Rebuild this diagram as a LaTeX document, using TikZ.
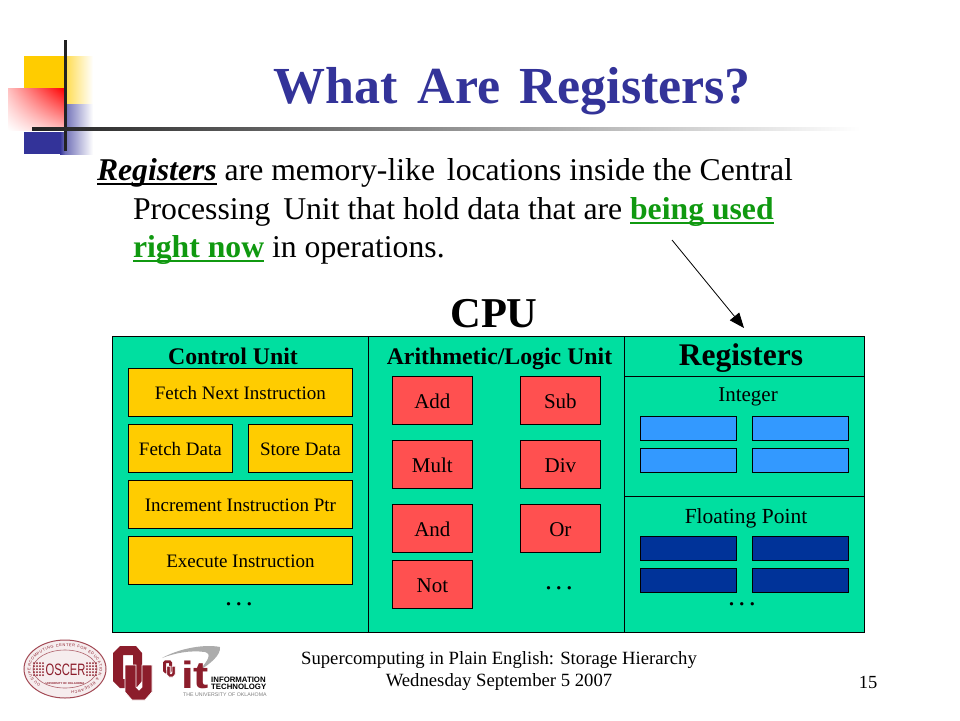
\documentclass[tikz,border=0pt]{standalone}
\usepackage{fontspec}
\setmainfont{Liberation Serif}
\newfontfamily\hv{Liberation Sans}
\usetikzlibrary{arrows.meta,shapes.geometric,shadings,decorations.text}
\definecolor{panel}{HTML}{00DFA0}
\definecolor{ttl}{HTML}{333399}
\definecolor{cyel}{HTML}{FFCC00}
\definecolor{cred}{HTML}{FF5050}
\definecolor{cblu}{HTML}{3399FF}
\definecolor{cdrk}{HTML}{003399}
\definecolor{cgrn}{HTML}{109910}
\definecolor{ou}{HTML}{8C1D2B}
\definecolor{mline}{HTML}{222222}
\newcommand{\fs}[1]{\fontsize{#1}{#1}\selectfont}
\newsavebox\ulb
\newcommand{\ulx}[1]{\sbox\ulb{#1}\rlap{\rule[-5.2pt]{\wd\ulb}{2.6pt}}\usebox\ulb}
\newcommand{\dotsx}{.\kern3.4pt.\kern3.4pt.}
\newcommand{\oulogo}{%
 \fill[ou,even odd rule] (120,646) -- (136,646) -- (142,653) -- (142,681) -- (136,688) -- (120,688) -- (113,681) -- (113,653) -- cycle
   (123,655) -- (133,655) -- (133,679) -- (123,679) -- cycle;
 \fill[ou,draw=white,line width=0.7pt] (125,665) -- (136,665) -- (136,687) -- (139,690) -- (142,687) -- (142,665) -- (152,665) -- (152,692) -- (145,700) -- (132,700) -- (125,692) -- cycle;
}
\tikzset{
 txt/.style={inner sep=0pt,outer sep=0pt,anchor=base west,font=\fs{31.7}},
 lbl/.style={inner sep=0pt,outer sep=0pt,anchor=base,font=\fs{19}},
 hdr/.style={inner sep=0pt,outer sep=0pt,anchor=base,font=\fs{23.8}\bfseries},
 cell/.style={draw=black,line width=0.8pt,anchor=north west,inner sep=0pt,font=\fs{19},minimum width=#1},
 cell/.default=80pt,
 yb/.style={cell=#1,fill=cyel,minimum height=48pt,text height=16pt,text depth=2pt},
 rb/.style={cell=80pt,fill=cred,minimum height=48pt,font=\fs{21},text height=18pt,text depth=2pt},
 ib/.style={cell=96pt,fill=cblu,minimum height=24pt},
 fb/.style={cell=96pt,fill=cdrk,minimum height=24pt},
 dv/.style={draw=black,line width=0.9pt},
 dotsn/.style={inner sep=0pt,anchor=base,font=\fs{28}},
 logot/.style={inner sep=0pt,anchor=base west,font=\hv\bfseries\fs{7.8}},
}
\begin{document}
\begin{tikzpicture}[x=1pt,y=-1pt]
\useasboundingbox (0,0) rectangle (960,720);
\fill[white] (0,0) rectangle (960,720);
% decoration
\fill[cyel] (24,56) rectangle (65,104);
\shade[left color=cyel!70!white,right color=white] (65,56) rectangle (93,104);
\shade[left color=ttl!70!white,right color=white] (65,104) rectangle (93,154);
\fill[ttl] (24,132) rectangle (60,154);
\shade[left color=ttl,right color=ttl!70!white] (60,132) rectangle (65,154);
\shade[lower left=white,upper right=red,lower right=red!25!white,upper left=red!25!white] (8,88) rectangle (64,130);
\draw[mline,line width=3pt] (65,40) -- (65,151);
\shade[left color=mline,right color=white] (32,127.5) rectangle (860,130.5);
% title and text
\node[inner sep=0pt,anchor=base,text=ttl,font=\fs{52}\bfseries] (title) at (512.5,103) {What\hspace{6.5pt} Are\hspace{6.5pt} Registers?};
\node[txt] (l1) at (97,180) {\ulx{\textbf{\textit{Registers}}} are memory-like\hspace{4pt} locations inside the Central};
\node[txt] (l2) at (133,219) {Processing\hspace{5pt} Unit that hold data that are \textcolor{cgrn}{\ulx{\textbf{being used}}}};
\node[txt] (l3) at (133,257) {\textcolor{cgrn}{\ulx{\textbf{right now}}} in operations.};
\node[inner sep=0pt,anchor=base,font=\fs{42.5}\bfseries] (cpu) at (494,327) {CPU};
% panel
\node[draw=black,line width=0.9pt,fill=panel,anchor=north west,inner sep=0pt,minimum width=752pt,minimum height=296pt] (panelbox) at (112,336) {};
\draw[dv] (368,336) -- (368,632);
\draw[dv] (624,336) -- (624,632);
\draw[dv] (624,376) -- (864,376);
\draw[dv] (624,496) -- (864,496);
\coordinate (as) at (672,240);
\coordinate (ae) at (744,328);
\draw[-{Triangle[length=15pt,width=12pt]},line width=0.8pt] (as) -- (ae);
% headers
\node[hdr] (cu) at (233,364) {Control Unit};
\node[hdr] (alu) at (499.5,364) {Arithmetic/Logic Unit};
\node[inner sep=0pt,anchor=base,font=\fs{31.5}\bfseries] (reg) at (741,365) {Registers};
\node[lbl,font=\fs{21}] (int) at (748,401) {Integer};
\node[lbl,font=\fs{21.5}] (fp) at (746,523) {Floating Point};
% control unit
\node[yb=224pt] (c1) at (128,368) {Fetch Next Instruction};
\node[yb=104pt] (c2) at (128,424) {Fetch Data};
\node[yb=104pt] (c3) at (248,424) {Store Data};
\node[yb=224pt] (c4) at (128,480) {Increment Instruction Ptr};
\node[yb=224pt] (c5) at (128,536) {Execute Instruction};
% ALU
\node[rb] (a1) at (392,376) {Add};
\node[rb] (a2) at (520,376) {Sub};
\node[rb] (a3) at (392,440) {Mult};
\node[rb] (a4) at (520,440) {Div};
\node[rb] (a5) at (392,504) {And};
\node[rb] (a6) at (520,504) {Or};
\node[rb] (a7) at (392,560) {Not};
% registers
\node[ib] (i1) at (640,416) {};
\node[ib] (i2) at (752,416) {};
\node[ib] (i3) at (640,448) {};
\node[ib] (i4) at (752,448) {};
\node[fb] (f1) at (640,536) {};
\node[fb] (f2) at (752,536) {};
\node[fb] (f3) at (640,568) {};
\node[fb] (f4) at (752,568) {};
% dots
\node[dotsn] (d1) at (239,605) {\dotsx};
\node[dotsn] (d2) at (559,589) {\dotsx};
\node[dotsn] (d3) at (742,605) {\dotsx};
% footer
\node[lbl,font=\fs{18.7}] (ft1) at (499,664) {Supercomputing in Plain English: Storage Hierarchy};
\node[lbl,font=\fs{18.7}] (ft2) at (499,686) {Wednesday September 5 2007};
\node[lbl,font=\fs{18.5}] (pg) at (868,688) {15};
% OSCER logo
\node[draw=ou!80!white,fill=ou!8!white,ellipse,line width=1pt,minimum width=82pt,minimum height=58pt,inner sep=0pt] (os1) at (65,669) {};
\node[draw=ou!70!white,ellipse,line width=0.6pt,minimum width=64pt,minimum height=38pt,inner sep=0pt] (os2) at (65,669) {};
\path[decorate,decoration={text along path,text color=ou,text={|\hv\fs{3.9}|OU SUPERCOMPUTING CENTER FOR EDUCATION {\&} RESEARCH},text align={fit to path}}]
  (65,669) ++(135:34.5 and 22.5) arc[start angle=135,end angle=440,x radius=34.5,y radius=22.5];
\foreach \gx in {34,37,40,43,87,90,93,96}
  \foreach \gy in {663,666,669,672,675}
    \fill[ou] (\gx,\gy) circle[radius=1];
\node[inner sep=0pt,text=ou,anchor=base,font=\hv\fs{16.5}] (os3) at (65.5,675) {\scalebox{.68}[1]{OSCER}};
\node[inner sep=0pt,text=ou,anchor=base,font=\hv\bfseries\fs{2.8}] (os4) at (65,684) {UNIVERSITY OF OKLAHOMA};
% OU logo
\oulogo
% IT logo
\fill[gray!65] (162,658) .. controls (180,648) and (205,644) .. (220,647) .. controls (221,655) and (210,664) .. (200,670) .. controls (208,660) and (212,654) .. (205,652) .. controls (190,650) and (175,653) .. (162,658) -- cycle;
\begin{scope}[shift={(128,460)},scale=0.31]
\oulogo
\end{scope}
\node[inner sep=0pt,anchor=base,text=ou,font=\hv\bfseries\fs{38}] (itl) at (195,688) {\scalebox{1.2}[1]{it}};
\node[logot] (it1) at (211,682) {INFORMATION};
\node[logot] (it2) at (211,689.5) {TECHNOLOGY};
\node[inner sep=0pt,anchor=base west,text=gray,font=\hv\fs{5.25}] (it3) at (183,696) {THE UNIVERSITY OF OKLAHOMA};
\end{tikzpicture}
\end{document}
